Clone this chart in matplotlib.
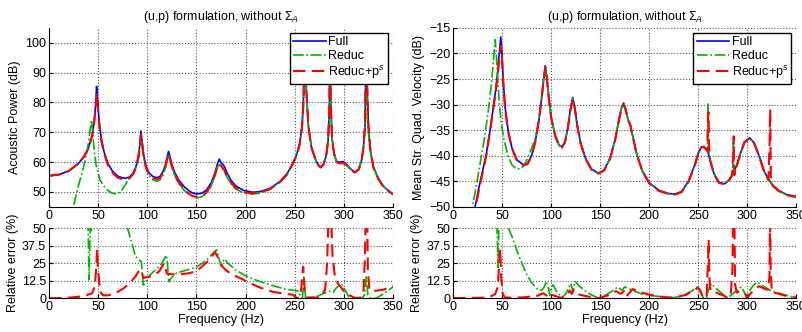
import matplotlib
matplotlib.use("Agg")
import matplotlib.pyplot as plt

plt.rcParams['font.family'] = ['Liberation Sans', 'DejaVu Sans']
plt.rcParams['mathtext.fontset'] = 'custom'
plt.rcParams['mathtext.rm'] = 'Liberation Sans'
plt.rcParams['mathtext.it'] = 'Liberation Sans:italic'

# ===================================
# Data: acoustic power (dB), left top
# ===================================
pw_full_f = [0, 10, 20, 30, 36, 40, 44, 46, 47.5, 48.5, 49.5, 51, 53, 56, 60, 65, 70, 75, 78, 82,
             86, 89, 91, 92.5, 93.6, 94.8, 96.5, 99, 102, 106, 110, 113, 116, 118.5, 120.5, 121.7,
             123, 125, 128, 132, 138, 145, 150, 155, 160, 165, 169, 171.5, 173.3, 175, 177, 178.5,
             181, 185, 190, 198, 207, 215, 225, 235, 242, 248, 252, 255, 257.5, 259, 259.8, 260.4,
             261, 262, 264, 267, 271, 274, 276.4, 279, 282, 284, 285.3, 286, 286.7, 288, 290, 292.6,
             296, 299, 302, 306, 311, 315, 318, 320, 321.5, 322.8, 323.8, 325, 327, 330, 335, 340,
             345, 350]
pw_full = [55.4, 55.8, 57.0, 59.5, 62.0, 64.5, 69.0, 73.5, 79, 85.4, 81, 74, 68.5, 63.5, 59.5, 56.8,
           55.3, 54.7, 54.6, 55.0, 56.5, 59, 62, 66, 70.4, 67, 62, 58.5, 56.3, 55.1, 54.8, 55.2,
           56.8, 59, 62, 63.6, 62, 59.3, 56.5, 54, 51.6, 49.8, 49.3, 49.5, 50.5, 53, 56.5, 59.5, 61,
           59.8, 59.2, 58.5, 56.5, 54.0, 52, 50.5, 49.9, 50.1, 51.2, 53.5, 56, 59.5, 62.5, 66, 72,
           82, 95, 102, 95, 83, 72, 65, 61, 59, 58.3, 59, 62, 67, 78, 102, 80, 68, 63, 60.2, 60,
           60.2, 59.5, 58, 56.6, 57.5, 60.5, 65, 72, 102, 85, 72, 64, 58.5, 54.5, 52, 50.5, 49.3]

pw_red_f = [0, 10, 20, 30, 36, 40, 44, 46, 47.5, 48.5, 49.5, 51, 53, 56, 60, 65, 70, 75, 78, 82,
            86, 89, 91, 92.5, 93.6, 94.8, 96.5, 99, 102, 106, 110, 113, 116, 118.5, 120.5, 121.7,
            123, 125, 128, 132, 138, 145, 150, 155, 160, 165, 169, 171.5, 173.3, 175, 177, 178.5,
            181, 185, 190, 198, 207, 215, 225, 235, 242, 248, 252, 255, 257.5, 259, 259.8, 260.4,
            261, 262, 264, 267, 271, 274, 276.4, 279, 282, 284, 285.3, 286, 286.7, 288, 290, 292.6,
            296, 299, 302, 306, 311, 315, 318, 320, 321.5, 322.8, 323.8, 325, 327, 330, 335, 340,
            345, 350]
pw_red = [55.4, 55.8, 57.0, 59.5, 62.0, 64.5, 68.8, 73, 78, 83, 79.5, 73, 67.8, 63, 59, 56.3,
          54.8, 54.2, 54.1, 54.6, 56.1, 58.6, 61.5, 65.3, 69.2, 66, 61.3, 58, 55.8, 54.6, 54.3, 54.7,
          56.3, 58.4, 61.2, 62.6, 61.2, 58.6, 55.8, 53.2, 50.7, 48.8, 48.3, 48.6, 49.7, 52.3, 55.8,
          58.7, 59.6, 58.8, 58.0, 57.3, 55.5, 53.2, 51.3, 49.9, 49.5, 49.8, 51.0, 53.3, 55.8, 59.3,
          62.3, 65.8, 72, 80, 95, 102, 95, 83, 72, 65, 61, 59, 58.2, 59, 62, 67, 78, 102, 80, 68,
          62.8, 60, 59.6, 59.7, 59.2, 57.8, 56.5, 57.4, 60.4, 65, 72, 102, 85, 72, 64, 58.4, 54.4,
          51.9, 50.4, 49.2]

pw_reduc_f = [20, 25, 30, 35, 38, 40, 42, 43.4, 44.5, 46, 48, 52, 58, 64, 68.8, 73, 78, 82, 86, 89,
              91, 92.5, 93.6, 94.8, 96.5, 99, 102, 106, 110, 113, 116, 118.5, 120.5, 121.7, 123, 125,
              128, 132, 138, 145, 150, 155, 160, 165, 169, 171.5, 173.3, 175, 177, 178.5, 181, 185,
              190, 198, 207, 215, 225, 235, 242, 248, 252, 255, 257.5, 259, 259.8, 260.4, 261, 262,
              264, 267, 271, 274, 276.4, 279, 282, 284, 285.3, 286, 286.7, 288, 290, 292.6, 296, 299,
              302, 306, 311, 315, 318, 320, 321.5, 322.8, 323.8, 325, 327, 330, 335, 340, 345, 350]
pw_reduc = [40, 45.3, 52, 58, 62.5, 66, 71, 74.1, 70, 64, 59, 54, 51, 49.6, 49.3, 50, 52.5, 55,
            56.2, 58.5, 61.3, 65, 69, 66, 61, 57.8, 55.4, 54, 53.6, 54, 55.7, 58, 61, 62.4, 61, 58.3,
            55.5, 52.8, 50.4, 48.6, 48.0, 48.3, 49.4, 52, 55.5, 58.4, 59.2, 58.3, 57.6, 57, 55, 52.8,
            51, 49.6, 49.3, 49.6, 50.9, 53.2, 55.7, 59.2, 62.2, 65.7, 71.5, 80, 95, 102, 95, 83, 72,
            65, 61, 59, 58.2, 59, 62, 67, 78, 102, 80, 68, 62.8, 60, 59.6, 59.7, 59.2, 57.8, 56.5,
            57.4, 60.4, 65, 72, 102, 75, 70, 63.5, 58.3, 54.3, 51.9, 50.4, 49.2]

# ===================================
# Data: mean str. quad. velocity (dB), right top
# ===================================
vel_full_f = [18, 22.4, 26, 30, 34, 37.8, 41, 43.5, 45.5, 47, 48.6, 49.8, 51, 53, 56, 60, 65, 71.7,
              76, 80, 84, 87.5, 90, 92, 93.9, 95.5, 97.5, 100, 104, 108, 110.9, 114, 117, 119.5,
              122, 124, 126.5, 130, 135, 141, 148, 154, 160, 165, 169, 171.8, 173.8, 176, 178.5,
              180.6, 183, 187, 193, 200, 210, 220, 226.5, 233, 240, 246, 250, 253, 255.5, 258,
              259.5, 262, 266, 271, 276.8, 281, 285, 289, 293, 297, 302.3, 307, 312, 317, 321.7, 326,
              332, 340, 350]
vel_full = [-52, -50, -46.5, -43, -39.5, -34.8, -30.5, -27, -23.5, -20, -16.8, -20, -25, -30.5, -35,
            -38.5, -40.8, -41.8, -41.5, -40, -37, -33, -29, -25.5, -22.4, -24.5, -28.5, -32.5, -36,
            -37.9, -38.3, -37.3, -34.5, -31, -28.6, -30.5, -34, -37.5, -40.5, -42.6, -43.4, -42.8,
            -40.5, -37, -33, -30.5, -29.7, -31, -33, -33.9, -36, -39.5, -43, -45.3, -46.8, -47.4,
            -47.5, -47, -45, -42, -39.5, -38.3, -38.2, -38.7, -39.0, -41, -43.5, -45.2, -45.5,
            -44.8, -43.6, -42, -39.5, -37.3, -36.5, -37.5, -40, -43, -44.6, -45.8, -46.8, -47.6, -48]

vel_red_f = [18, 22.4, 26, 30, 34, 37.8, 41, 43.5, 45.5, 47, 48.6, 49.8, 51, 53, 56, 60, 65, 71.7,
             76, 80, 84, 87.5, 90, 92, 93.9, 95.5, 97.5, 100, 104, 108, 110.9, 114, 117, 119.5, 122,
             124, 126.5, 130, 135, 141, 148, 154, 160, 165, 169, 171.8, 173.8, 176, 178.5, 180.6,
             183, 187, 193, 200, 210, 220, 226.5, 233, 240, 246, 250, 253, 255.5, 258, 259.3, 259.8,
             260.4, 261, 262, 266, 271, 276.8, 281, 284.5, 285.6, 286.1, 286.7, 287.5, 289, 293,
             297, 302.3, 307, 312, 317, 321.5, 322.6, 323.3, 324.0, 326, 332, 340, 350]
vel_red = [-52.5, -50.5, -47, -43.4, -39.8, -35, -30.8, -27.4, -24, -21, -18.5, -21, -25.5, -30.8,
           -35.2, -38.6, -40.9, -41.9, -41.6, -40.1, -37.1, -33.1, -29.2, -25.8, -22.7, -24.7,
           -28.7, -32.6, -36.1, -38, -38.4, -37.4, -34.6, -31.2, -28.9, -30.7, -34.1, -37.6, -40.6,
           -42.7, -43.5, -42.9, -40.6, -37.1, -33.2, -30.7, -30, -31.1, -33.1, -34, -36.1, -39.6,
           -43.1, -45.4, -46.9, -47.5, -47.6, -47.1, -45.1, -42.1, -39.6, -38.4, -38.3, -38.8,
           -39.1, -33, -31.5, -38, -40.8, -43.6, -45.3, -45.6, -44.9, -43.8, -40, -36.2, -43.8,
           -43.4, -42.1, -39.6, -37.4, -36.6, -37.6, -40.1, -43.1, -44.8, -38, -30.9, -45.2, -45.9,
           -46.9, -47.7, -48.1]

vel_reduc_f = [17, 19.7, 24, 28, 32, 36, 39, 41, 42.9, 44, 45.5, 47, 49, 52, 56, 60, 64, 68.4, 72,
               76, 80, 84, 87.5, 90, 92, 93.9, 95.5, 97.5, 100, 104, 108, 110.9, 114, 117, 119.5,
               122, 124, 126.5, 130, 135, 141, 148, 154, 160, 165, 169, 171.8, 173.8, 176, 178.5,
               180.6, 183, 187, 193, 200, 210, 220, 226.5, 233, 240, 246, 250, 253, 255.5, 258,
               259.3, 259.8, 260.4, 261, 262, 266, 271, 276.8, 281, 284.8, 285.8, 286.6, 287.5, 289,
               293, 297, 302.3, 307, 312, 317, 321.7, 326, 332, 340, 350]
vel_reduc = [-52, -50, -45.5, -41, -36.5, -31, -26, -21.5, -17.3, -20, -25, -29.5, -33.5, -37, -40,
             -41.8, -42.5, -42.6, -42, -40.5, -38.5, -36.5, -33, -29.1, -25.7, -22.6, -24.6, -28.6,
             -32.6, -36.1, -38, -38.4, -37.4, -34.6, -31.1, -28.8, -30.6, -34.1, -37.6, -40.6,
             -42.7, -43.5, -42.9, -40.6, -37.1, -33.1, -30.6, -29.9, -31.1, -33.1, -34, -36.1,
             -39.6, -43.1, -45.4, -46.9, -47.5, -47.6, -47.1, -45.1, -42.1, -39.6, -38.4, -38.3,
             -38.8, -38.5, -29.9, -38.8, -39.5, -41, -43.6, -45.3, -45.6, -44.9, -43.8, -37.3, -43.7,
             -43.4, -42.1, -39.6, -37.4, -36.6, -37.6, -40.1, -43.1, -44.7, -45.9, -46.9, -47.7,
             -48.1]

# ===================================
# Data: relative error (%), left bottom
# ===================================
ep_reduc_f = [0, 38, 40, 40.8, 42, 43, 44, 46, 79, 80, 84, 88, 92, 94, 96, 98, 100, 105, 110, 115,
              119.5, 120.5, 122, 124, 130, 140, 150, 160, 167, 170.5, 172, 175, 178.5, 182, 190, 200,
              212, 225, 240, 250, 254, 256, 258, 259.5, 261, 265, 272, 280, 285, 289, 292, 297.5,
              301, 305, 310, 318, 321, 322.8, 324.5, 327, 333, 340, 350]
ep_reduc = [100, 90, 45, 13, 50, 48, 70, 100, 60, 50, 40, 30, 27, 26, 9.3, 11, 14, 18, 21, 25, 30.7,
            25, 11.7, 14, 18, 20, 22, 27, 32, 34.5, 31, 23, 28, 25, 20, 16, 12.5, 9.5, 6.5, 5.5, 5,
            1, 0.5, 15, 0.5, 0, 1, 3.5, 5, 4, 7, 10.5, 6, 1, 0, 0, 2, 15, 2, 0, 0, 3, 8]

ep_red_f = [0, 10, 20, 30, 38, 44, 46.5, 48, 49, 50, 52, 55, 60, 65, 70, 76, 82, 88, 92, 94, 96, 100,
            106, 112, 117, 118.5, 120, 125, 132, 140, 150, 158, 164, 169, 172, 176, 180, 186, 194,
            205, 215, 228, 240, 248, 251, 253, 256, 258.7, 260.5, 262, 268, 275, 281, 283, 284.5,
            287, 288.5, 291, 294, 300, 305, 310, 315, 318, 320, 321.5, 322.5, 323.5, 324.5, 326,
            330, 340, 350]
ep_red = [0, 0, 0.3, 1, 2, 3.5, 8, 20, 35, 20, 5, 2, 2, 3, 4.5, 7, 10.5, 15.5, 20, 20, 14.5, 15, 16,
          19, 24.8, 22, 17.5, 17, 17, 17.5, 19, 24, 28, 33, 29, 23, 20, 17, 14.5, 10.5, 7.5, 4.5, 3,
          2.5, 0.5, 0, 2, 22.4, 3, 0.5, 0.5, 0.3, 6, 25, 60, 60, 30, 15, 10.5, 5, 2.5, 0.5, 0, 1, 5,
          30, 70, 70, 20, 6, 5, 6, 8.5]

# ===================================
# Data: relative error (%), right bottom
# ===================================
ev_reduc_f = [0, 44, 45, 45.8, 46.6, 47.5, 55, 56.4, 60, 65, 70, 75, 80, 85, 90, 93, 95, 97, 98.5,
              100, 102, 106, 111, 115, 118, 120, 122, 124.5, 128, 135, 142, 148, 155, 162, 168, 172,
              175, 180, 185, 192, 200, 212, 225, 235, 243, 249, 252, 255, 258, 260, 263, 268, 273,
              280, 285, 290, 294, 297, 299.5, 302, 306, 310, 315, 320, 325, 335, 345, 350]
ev_reduc = [55, 60, 45, 22, 50, 70, 60, 50, 44, 34, 25, 17, 11, 7, 5.5, 8, 12, 8, 2, 8, 9.5, 4, 0.5,
            3, 8, 10.5, 5, 12, 9, 5, 2, 0, 2, 5, 8, 5.5, 8, 6.5, 5, 3, 2, 1, 0.3, 2, 5, 8, 6, 0, 0,
            5, 10.5, 7, 4, 0, 3, 6, 8, 4, 0, 5, 9, 11.5, 9, 7, 5, 3, 1, 0.5]

ev_red_f = [0, 30, 38, 43, 45.5, 47, 48, 49, 50.5, 53, 60, 70, 85, 92, 95, 97, 99, 102, 110, 116,
            119, 121, 123, 126, 135, 148, 158, 166, 171, 175, 177, 183, 190, 200, 212, 225, 238, 245,
            250, 254, 256, 258.5, 259.8, 260.5, 261.3, 262.5, 268, 275, 280, 283, 284.8, 285.5,
            286.8, 287.5, 289, 293, 297, 300, 303, 308, 312, 318, 321, 322.5, 323.2, 323.8, 325,
            330, 340, 350]
ev_red = [0, 0.3, 1, 3, 8, 25, 35, 15, 3, 0.5, 0.3, 0.5, 1.5, 3.5, 2, 1, 3, 2, 0.2, 2, 5.5, 3, 6, 3,
          1.5, 0, 2, 5, 3, 5.5, 1.5, 6.5, 4.5, 2.5, 1, 0.2, 2.5, 5.5, 7.5, 2, 0, 1, 25, 41.5, 15, 5,
          4, 2, 0.3, 2, 20, 60, 60, 10, 4, 5, 4, 0.5, 3, 7, 8.5, 6.5, 6, 15, 60, 20, 4, 3.5, 1.5, 0.3]

freq_ticks = [0, 50, 100, 150, 200, 250, 300, 350]
err_ticks = [0, 12.5, 25, 37.5, 50]
err_labels = ['0', '12.5', '25', '37.5', '50']
title_txt = r'(u,p) formulation, without $\Sigma_A$'

# ===================================
# Plotting
# ===================================
BLUE = '#0000ff'
GREEN = '#00b400'
RED = '#ff0000'
FS = 9


def style_ax(ax):
    ax.set_xlim(0, 350)
    ax.set_xticks(freq_ticks)
    ax.grid(True, linestyle=':', color='0.35', linewidth=0.8)
    ax.spines['top'].set_visible(False)
    ax.spines['right'].set_visible(False)
    ax.tick_params(direction='in', length=3, labelsize=FS, pad=2)


def top_panel(ax, data, ylim, yticks, ylabel):
    (ff, yf), (fr, yr), (fp, yp) = data
    ax.plot(ff, yf, color=BLUE, lw=1.2, label='Full')
    ax.plot(fr, yr, color=GREEN, lw=1.2, ls='-.', label='Reduc')
    ax.plot(fp, yp, color=RED, lw=1.5, ls=(0, (6, 3)), label='Reduc+p$^s$')
    style_ax(ax)
    ax.set_ylim(*ylim)
    ax.set_yticks(yticks)
    ax.set_ylabel(ylabel, fontsize=FS, labelpad=3)
    ax.set_title(title_txt, fontsize=FS, pad=6)
    leg = ax.legend(loc='upper right', fontsize=FS, fancybox=False, framealpha=1,
                    edgecolor='black', borderaxespad=0.4, handlelength=2.6,
                    handletextpad=0.2, labelspacing=0.15, borderpad=0.25)
    leg.get_frame().set_linewidth(1.0)


def bottom_panel(ax, data):
    (fr, er), (fp, ep) = data
    ax.plot(fr, er, color=GREEN, lw=1.2, ls='-.')
    ax.plot(fp, ep, color=RED, lw=1.5, ls=(0, (6, 3)))
    style_ax(ax)
    ax.set_ylim(0, 50)
    ax.set_yticks(err_ticks)
    ax.set_yticklabels(err_labels)
    ax.set_ylabel('Relative error (%)', fontsize=FS, labelpad=2)
    ax.set_xlabel('Frequency (Hz)', fontsize=FS, labelpad=1)


fig = plt.figure(figsize=(8.02, 3.32), dpi=100)
ax1 = fig.add_axes([0.061, 0.377, 0.429, 0.539])
ax2 = fig.add_axes([0.061, 0.102, 0.429, 0.211])
ax3 = fig.add_axes([0.565, 0.377, 0.428, 0.539])
ax4 = fig.add_axes([0.565, 0.102, 0.428, 0.211])

top_panel(ax1, [(pw_full_f, pw_full), (pw_reduc_f, pw_reduc), (pw_red_f, pw_red)],
          (45, 105), [50, 60, 70, 80, 90, 100], 'Acoustic Power (dB)')
bottom_panel(ax2, [(ep_reduc_f, ep_reduc), (ep_red_f, ep_red)])
top_panel(ax3, [(vel_full_f, vel_full), (vel_reduc_f, vel_reduc), (vel_red_f, vel_red)],
          (-50, -15), [-50, -45, -40, -35, -30, -25, -20, -15], 'Mean Str. Quad. Velocity (dB)')
bottom_panel(ax4, [(ev_reduc_f, ev_reduc), (ev_red_f, ev_red)])

plt.savefig('out.png', dpi=100)
